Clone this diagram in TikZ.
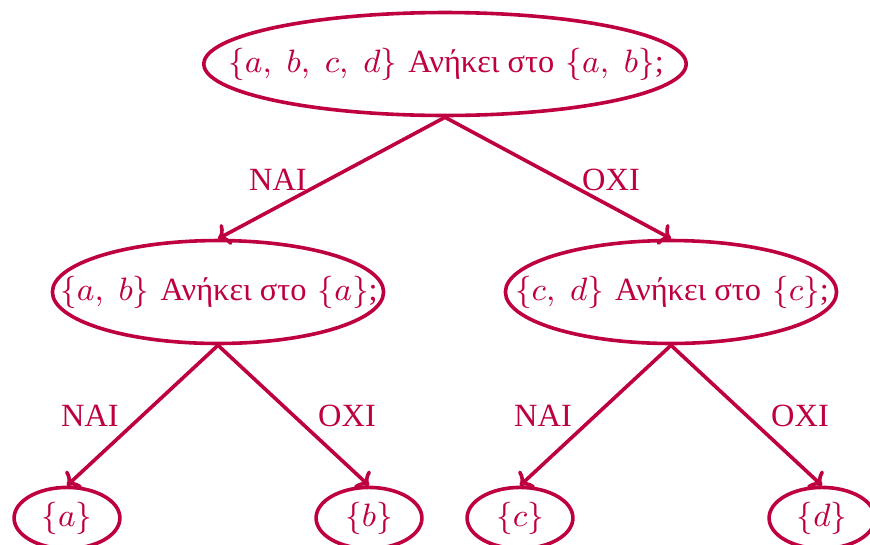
\documentclass[tikz,border=0pt]{standalone}
\usepackage{fontspec}
\newfontfamily\gr{Liberation Serif}
\usetikzlibrary{shapes.geometric,arrows.meta}
\definecolor{crim}{RGB}{190,0,64}
\begin{document}
\begin{tikzpicture}[x=0.2778pt,y=-0.2778pt,
  every node/.style={text=crim,font=\fontsize{9}{11}\selectfont},
  el/.style={ellipse,draw=crim,line width=1pt,inner sep=0pt},
  big/.style={el,minimum width=134pt,minimum height=28.6pt},
  mid/.style={el,minimum width=92pt,minimum height=28.6pt},
  leaf/.style={el,minimum width=29.4pt,minimum height=17pt},
  txt/.style={inner sep=0pt},
  edge/.style={draw=crim,line width=1pt,-{To[length=3pt,width=6.5pt]}},
  lab/.style={inner sep=0pt,font=\fontsize{9}{11}\selectfont\gr}]
\useasboundingbox (0,0) rectangle (870,544);
\clip (0,0) rectangle (870,544);
\node[big] (root) at (445,64) {};
\node[txt] (troot) at (446,64) {$\{a,\; b,\; c,\; d\}$ {\gr Ανήκει στο} $\{a,\; b\}${\gr ;}};
\node[mid] (ml) at (218,292) {};
\node[txt] (tml) at (219,292) {$\{a,\; b\}$ {\gr Ανήκει στο} $\{a\}${\gr ;}};
\node[mid] (mr) at (671,292) {};
\node[txt] (tmr) at (672,292) {$\{c,\; d\}$ {\gr Ανήκει στο} $\{c\}${\gr ;}};
\node[leaf] (la) at (67,518) {$\{a\}$};
\node[leaf] (lb) at (369,518) {$\{b\}$};
\node[leaf] (lc) at (520,518) {$\{c\}$};
\node[leaf] (ld) at (822,518) {$\{d\}$};
\draw[edge] (root.south) -- (ml.north);
\draw[edge] (root.south) -- (mr.north);
\draw[edge] (ml.south) -- (la.north);
\draw[edge] (ml.south) -- (lb.north);
\draw[edge] (mr.south) -- (lc.north);
\draw[edge] (mr.south) -- (ld.north);
\node[lab] (n1) at (278,180) {ΝΑΙ};
\node[lab] (o1) at (611,180) {ΟΧΙ};
\node[lab] (n2) at (90,416) {ΝΑΙ};
\node[lab] (o2) at (347,416) {ΟΧΙ};
\node[lab] (n3) at (543,416) {ΝΑΙ};
\node[lab] (o3) at (800,416) {ΟΧΙ};
\end{tikzpicture}
\end{document}
